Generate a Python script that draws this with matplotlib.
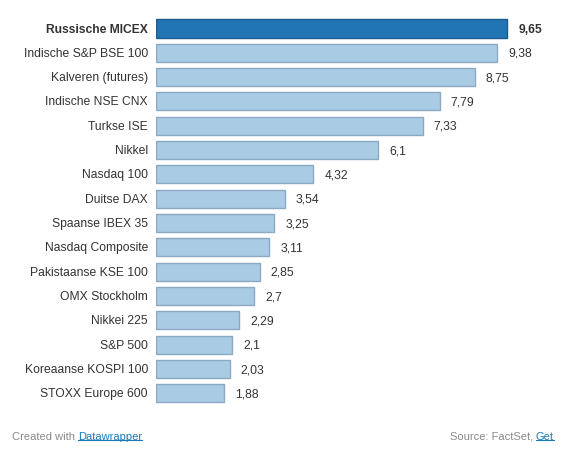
import matplotlib
matplotlib.use("Agg")
import matplotlib.pyplot as plt

labels = ["Russische MICEX", "Indische S&P BSE 100", "Kalveren (futures)",
          "Indische NSE CNX", "Turkse ISE", "Nikkel", "Nasdaq 100",
          "Duitse DAX", "Spaanse IBEX 35", "Nasdaq Composite",
          "Pakistaanse KSE 100", "OMX Stockholm", "Nikkei 225", "S&P 500",
          "Koreaanse KOSPI 100", "STOXX Europe 600"]
values = [9.65, 9.38, 8.75, 7.79, 7.33, 6.1, 4.32, 3.54, 3.25, 3.11,
          2.85, 2.7, 2.29, 2.1, 2.03, 1.88]
value_text = ["9,65", "9,38", "8,75", "7,79", "7,33", "6,1", "4,32", "3,54",
              "3,25", "3,11", "2,85", "2,7", "2,29", "2,1", "2,03", "1,88"]
highlight = "Russische MICEX"

plt.rcParams["font.family"] = ["Liberation Sans", "DejaVu Sans"]

W, H = 561, 452
fig = plt.figure(figsize=(W / 100, H / 100), dpi=100)

# bar rows: centre of first at 29.5 px, pitch 24.33 px
top_px = 29.5 - 24.33
bot_px = 29.5 + 24.33 * 16
left_px = 156
ax = fig.add_axes([left_px / W, (H - bot_px) / H,
                   (W - left_px) / W, (bot_px - top_px) / H])
px_per_unit = 36.4
ax.set_xlim(0, (W - left_px) / px_per_unit)
ax.set_ylim(16, -1)
ax.axis("off")

for i, (lab, v, t) in enumerate(zip(labels, values, value_text)):
    hi = lab == highlight
    face = "#2275b5" if hi else "#aacbe4"
    edge = "#1a5a8c" if hi else "#8ba9c2"
    ax.barh(i, v, height=0.74, color=face, edgecolor=edge, linewidth=1.0)
    weight = "bold" if hi else "normal"
    ax.text(-8 / px_per_unit, i, lab, ha="right", va="center",
            fontsize=8.7, color="#333333", fontweight=weight)
    ax.text(v + 11 / px_per_unit, i, t, ha="left", va="center",
            fontsize=8.7, color="#333333", fontweight=weight)

# footer
fy = 1 - 437 / H
t1 = fig.text(12 / W, fy, "Created with ", fontsize=8, color="#8a8a8a",
              ha="left", va="center")
fig.canvas.draw()
bb = t1.get_window_extent()
fig.text(bb.x1 / W, fy, "Datawrapper", fontsize=8, color="#1a7ab8",
         ha="left", va="center").set_url(None)
t3 = fig.text(554 / W, fy, "Get", fontsize=8, color="#1a7ab8",
              ha="right", va="center")
fig.canvas.draw()
bb3 = t3.get_window_extent()
fig.text(bb3.x0 / W, fy, "Source: FactSet, ", fontsize=8, color="#8a8a8a",
         ha="right", va="center")

# underline links
fig.canvas.draw()
for txt in fig.texts:
    if txt.get_color() == "#1a7ab8":
        b = txt.get_window_extent()
        fig.add_artist(plt.Line2D([b.x0 / W, b.x1 / W],
                                  [(b.y0 + 1) / H, (b.y0 + 1) / H],
                                  color="#1a7ab8", linewidth=0.8))

fig.savefig("out.png", dpi=100)
